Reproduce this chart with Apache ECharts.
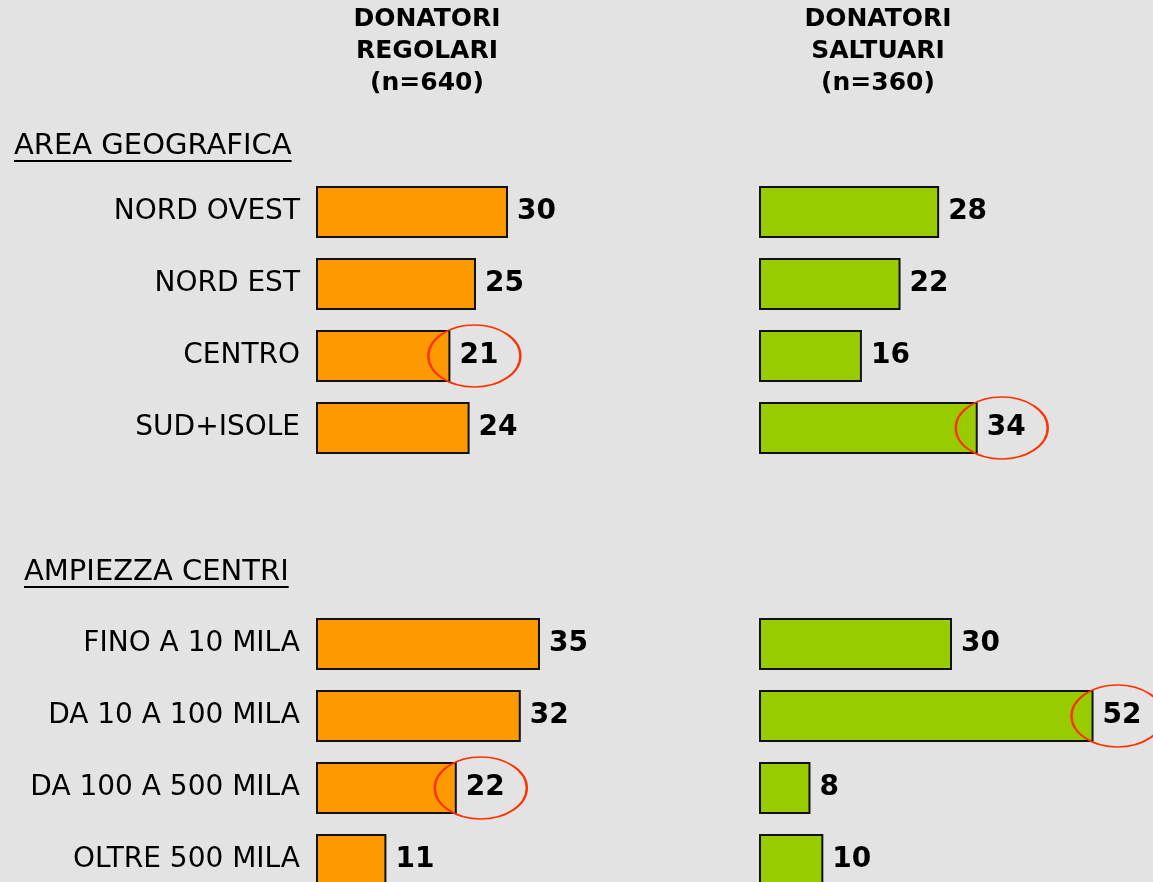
<!DOCTYPE html>
<html>
<head>
<meta charset="utf-8">
<title>Donatori</title>
<script src="https://cdn.jsdelivr.net/npm/echarts@6/dist/echarts.min.js"></script>
<style>
  html, body { margin: 0; padding: 0; background: #e3e3e3; }
  #chart { width: 1153px; height: 882px; }
</style>
</head>
<body>
<div id="chart"></div>
<script>
// categorie (due slot vuoti fra i due blocchi)
var categories = ['NORD OVEST', 'NORD EST', 'CENTRO', 'SUD+ISOLE', ' ', '  ',
  'FINO A 10 MILA', 'DA 10 A 100 MILA', 'DA 100 A 500 MILA', 'OLTRE 500 MILA'];
var regolari = [30, 25, 21, 24, '-', '-', 35, 32, 22, 11];
var saltuari = [28, 22, 16, 34, '-', '-', 30, 52, 8, 10];
// valori cerchiati in rosso
var evidRegolari = ['CENTRO', 'DA 100 A 500 MILA'];
var evidSaltuari = ['SUD+ISOLE', 'DA 10 A 100 MILA'];
var sezioni = ['AREA GEOGRAFICA', 'AMPIEZZA CENTRI'];
var titoli = ['DONATORI\nREGOLARI\n(n=640)', 'DONATORI\nSALTUARI\n(n=360)'];

var FONT = '"DejaVu Sans", Verdana, sans-serif';
var ellipsePath = 'path://M50,0C77.6,0,100,22.4,100,50C100,77.6,77.6,100,50,100C22.4,100,0,77.6,0,50C0,22.4,22.4,0,50,0Z';

function textWidth(txt, font) {
  var ctx = document.createElement('canvas').getContext('2d');
  ctx.font = font;
  return ctx.measureText(txt).width;
}

function markData(names, values) {
  return names.map(function (n) {
    return { coord: [values[categories.indexOf(n)], n] };
  });
}

function barSeries(values, color, idx, evid) {
  return {
    type: 'bar',
    xAxisIndex: idx,
    yAxisIndex: idx,
    data: values,
    barWidth: 52,
    itemStyle: { color: color, borderColor: '#111', borderWidth: 2 },
    label: {
      show: true,
      position: 'right',
      distance: 9,
      color: '#000',
      fontFamily: FONT,
      fontWeight: 'bold',
      fontSize: 28
    },
    markPoint: {
      symbol: ellipsePath,
      symbolSize: [92, 62],
      symbolOffset: [24, 0],
      silent: true,
      label: { show: false },
      itemStyle: { color: 'transparent', borderColor: '#ff3300', borderWidth: 2 },
      data: markData(evid, values)
    }
  };
}

var chart = echarts.init(document.getElementById('chart'));

var secFont = '29px ' + FONT;
var hdrFont = 'bold 25px ' + FONT;
var graphics = [
  { type: 'text', x: 14, y: 146, style: { text: sezioni[0], font: secFont, fill: '#000', verticalAlign: 'middle' } },
  { type: 'rect', shape: { x: 14, y: 160, width: textWidth(sezioni[0], secFont), height: 2 }, style: { fill: '#000' } },
  { type: 'text', x: 24, y: 572, style: { text: sezioni[1], font: secFont, fill: '#000', verticalAlign: 'middle' } },
  { type: 'rect', shape: { x: 24, y: 586, width: textWidth(sezioni[1], secFont), height: 2 }, style: { fill: '#000' } },
  { type: 'text', x: 427, y: 3, style: { text: titoli[0], fill: '#000', font: hdrFont, lineHeight: 32, align: 'center', verticalAlign: 'top' } },
  { type: 'text', x: 878, y: 3, style: { text: titoli[1], fill: '#000', font: hdrFont, lineHeight: 32, align: 'center', verticalAlign: 'top' } }
];

var option = {
  backgroundColor: '#e3e3e3',
  animation: false,
  grid: [
    { left: 316, top: 176, width: 384, height: 720, outerBoundsMode: 'none' },
    { left: 759, top: 176, width: 386, height: 720, outerBoundsMode: 'none' }
  ],
  xAxis: [
    { gridIndex: 0, type: 'value', min: 0, max: 60, show: false },
    { gridIndex: 1, type: 'value', min: 0, max: 60, show: false }
  ],
  yAxis: [
    {
      gridIndex: 0, type: 'category', inverse: true, data: categories,
      axisLine: { show: false }, axisTick: { show: false },
      axisLabel: { margin: 16, color: '#000', fontFamily: FONT, fontSize: 28 }
    },
    {
      gridIndex: 1, type: 'category', inverse: true, data: categories,
      axisLine: { show: false }, axisTick: { show: false }, axisLabel: { show: false }
    }
  ],
  graphic: graphics,
  series: [
    barSeries(regolari, '#ff9900', 0, evidRegolari),
    barSeries(saltuari, '#99cc00', 1, evidSaltuari)
  ]
};
chart.setOption(option);
</script>
</body>
</html>
